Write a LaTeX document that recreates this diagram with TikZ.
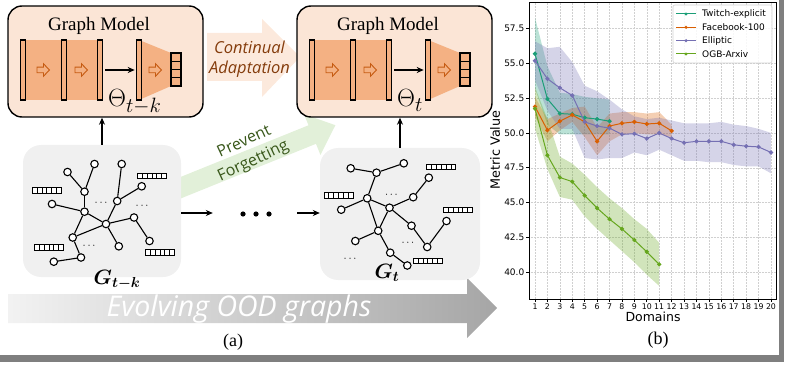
\documentclass[tikz,border=0pt]{standalone}
\usepackage{amsmath,bm}
\usepackage{fontspec}
\setmainfont{Liberation Serif}
\newfontfamily\comicf{Open Sans}
\newfontfamily\plotf{DejaVu Sans}
\usetikzlibrary{arrows.meta}
\definecolor{boxpeach}{HTML}{FBE5D6}
\definecolor{barorange}{HTML}{F4B183}
\definecolor{arroworange}{HTML}{C55A11}
\definecolor{brownt}{HTML}{843C0C}
\definecolor{greenfill}{HTML}{E2F0D9}
\definecolor{greent}{HTML}{38571A}
\definecolor{graybox}{HTML}{F0F0F0}
\definecolor{cTw}{HTML}{1B9E77}
\definecolor{cFb}{HTML}{D95F02}
\definecolor{cEl}{HTML}{7570B3}
\definecolor{cOg}{HTML}{66A61E}
\definecolor{framegray}{HTML}{7F7F7F}
\definecolor{gridgray}{HTML}{D0D0D0}
\tikzset{
  modelbox/.style={draw, line width=1.4pt, fill=boxpeach, rounded corners=14pt, minimum width=195pt, minimum height=111pt, inner sep=0pt},
  layerbar/.style={draw, line width=1.1pt, fill=barorange, minimum width=5.5pt, minimum height=60pt, inner sep=0pt},
  outcell/.style={draw, line width=1.1pt, fill=barorange, minimum width=10pt, minimum height=8.25pt, inner sep=0pt},
  graphbox/.style={fill=graybox, rounded corners=18pt, minimum width=158pt, minimum height=132pt, inner sep=0pt},
  gn/.style={circle, draw, line width=1.1pt, fill=white, minimum size=7.5pt, inner sep=0pt},
  gedge/.style={line width=1.1pt},
  arr/.style={line width=1.2pt, -{Stealth[length=7pt,width=6pt]}},
  gdots/.style={font=\fontsize{11}{11}\selectfont, inner sep=0pt},
  gridline/.style={gridgray, densely dotted, line width=0.5pt},
  ticklab/.style={font=\plotf\fontsize{9}{9}\selectfont, inner sep=0pt},
  xticklab/.style={font=\plotf\fontsize{7.8}{8}\selectfont, inner sep=0pt},
  leglab/.style={font=\plotf\fontsize{9}{9}\selectfont, inner sep=0pt, anchor=west},
  pics/featvec/.style={code={
    \draw[line width=0.9pt, fill=white] (-14.5,-2.7) rectangle (14.5,2.7);
    \foreach \i in {1,...,5} \draw[line width=0.7pt] (-14.5+\i*29/6,-2.7) -- ++(0,5.4);
  }},
  pics/hollowarrow/.style={code={
    \draw[arroworange, line width=0.9pt, line join=miter] (-6,-2.8) -- (0.5,-2.8) -- (0.5,-6.2) -- (6.5,0) -- (0.5,6.2) -- (0.5,2.8) -- (-6,2.8) -- cycle;
  }},
  pics/graphmodel/.style={code={
    \node[modelbox] (-box) at (105.5,61.5) {};
    \node[anchor=base, inner sep=0pt, font=\fontsize{19}{19}\selectfont] (-title) at (99,31) {Graph Model};
    \fill[barorange] (23,40) rectangle (100,100);
    \fill[barorange] (139,40) -- (171,53) -- (171,86) -- (139,100) -- cycle;
    \node[layerbar] (-l1) at (23,70) {};
    \node[layerbar] (-l2) at (64,70) {};
    \node[layerbar] (-l3) at (100,70) {};
    \node[layerbar] (-l4) at (139,70) {};
    \node[outcell] (-o1) at (176,57.1) {};
    \node[outcell] (-o2) at (176,65.4) {};
    \node[outcell] (-o3) at (176,73.6) {};
    \node[outcell] (-o4) at (176,81.9) {};
    \pic at (43,70) {hollowarrow};
    \pic at (81,70) {hollowarrow};
    \pic at (155,70) {hollowarrow};
    \draw[arr, shorten <=2pt, shorten >=1pt] (-l3) -- (-l4);
    \node[anchor=base west, inner sep=0pt, font=\fontsize{24.88}{25}\selectfont] (-theta) at (108,107) {$\Theta_{#1}$};
  }}
}
\begin{document}
\begin{tikzpicture}[x=1pt,y=-1pt]
\useasboundingbox (0,0) rectangle (786,366);
% frame
\fill[framegray] (0,355) rectangle (784,362);
\fill[framegray] (779,0) rectangle (784,362);

% background arrows
\fill[boxpeach!85] (207,33) -- (262,33) -- (262,19) -- (300,57) -- (262,97) -- (262,81) -- (207,81) -- cycle;
\begin{scope}[shift={(175,190)}, rotate=22]
  \fill[greenfill] (0,-10) -- (148,-10) -- (148,-22) -- (173,0) -- (148,22) -- (148,10) -- (0,10) -- cycle;
\end{scope}
\shade[left color=gray!10, right color=gray!70] (8,294) -- (467,294) -- (467,278) -- (497,308) -- (467,338) -- (467,323) -- (8,323) -- cycle;

% graph models
\pic (m1) at (0,0) {graphmodel={t-k}};
\pic (m2) at (289,0) {graphmodel={t}};

% graph boxes
\node[graphbox] (gA) at (102,211) {};
\node[graphbox, minimum width=160pt] (gB) at (400,214) {};

% graph G_{t-k}
\node[gn] (a1) at (67.5,172) {};
\node[gn] (a2) at (94.5,164) {};
\node[gn] (a3) at (84.5,191.7) {};
\node[gn] (a4) at (52,204) {};
\node[gn] (a5) at (84.5,211.7) {};
\node[gn] (a6) at (121.7,164) {};
\node[gn] (a7) at (117.2,201) {};
\node[gn] (a8) at (141.7,186.3) {};
\node[gn] (a9) at (134,217.5) {};
\node[gn] (a10) at (106,224) {};
\node[gn] (a11) at (72.7,237.5) {};
\node[gn] (a12) at (118.8,246.3) {};
\node[gn] (a13) at (149.5,241) {};
\node[gn] (a14) at (81,257.5) {};
\node[gn] (a15) at (53.8,261.7) {};
\foreach \u/\v in {a1/a3,a2/a3,a3/a5,a4/a5,a5/a11,a5/a10,a6/a7,a7/a8,a7/a10,a10/a9,a9/a13,a10/a12,a10/a11,a11/a14,a14/a15}
  \draw[gedge] (\u) -- (\v);
\pic at (46.7,190.5) {featvec};
\pic at (152,176) {featvec};
\pic at (49,247.5) {featvec};
\pic at (160,252.5) {featvec};
\node[gdots] (ad1) at (102,203) {$\cdots$};
\node[gdots] (ad2) at (143,206.5) {$\cdots$};
\node[gdots] (ad3) at (90,246) {$\cdots$};
\node[anchor=base, inner sep=0pt, font=\fontsize{20}{20}\selectfont] (lA) at (117,284) {$\bm{G_{t-k}}$};

% graph G_t
\node[gn] (b1) at (350.7,168.3) {};
\node[gn] (b2) at (376.5,172.7) {};
\node[gn] (b3) at (403.8,163.3) {};
\node[gn] (b4) at (367.2,198.3) {};
\node[gn] (b5) at (341.2,209.7) {};
\node[gn] (b6) at (389.5,207.7) {};
\node[gn] (b7) at (413.2,197.2) {};
\node[gn] (b8) at (428.8,177.7) {};
\node[gn] (b9) at (411.5,225.7) {};
\node[gn] (b10) at (378.2,230.8) {};
\node[gn] (b11) at (355.3,241) {};
\node[gn] (b12) at (390.2,252.7) {};
\node[gn] (b13) at (407.3,265.5) {};
\node[gn] (b14) at (427.2,247) {};
\node[gn] (b15) at (446.5,221) {};
\foreach \u/\v in {b1/b2,b2/b3,b2/b4,b5/b4,b4/b6,b6/b7,b7/b8,b4/b10,b6/b10,b6/b9,b9/b14,b14/b15,b10/b11,b10/b12,b12/b13}
  \draw[gedge] (\u) -- (\v);
\pic at (338.5,195.5) {featvec};
\pic at (441.3,167.2) {featvec};
\pic at (458,210) {featvec};
\pic at (427.7,261) {featvec};
\node[gdots] (bd1) at (392.3,195.5) {$\cdots$};
\node[gdots] (bd2) at (408.8,243) {$\cdots$};
\node[gdots] (bd3) at (351,259) {$\cdots$};
\node[anchor=base, inner sep=0pt, font=\fontsize{20}{20}\selectfont] (lB) at (387,278) {$\bm{G_{t}}$};

% connectors
\draw[arr] (gA.north) -- (gA.north |- m1-box.south);
\draw[arr] (gB.north) -- (gB.north |- m2-box.south);
\node[inner sep=0pt, minimum width=84pt, minimum height=8pt] (ell) at (255,213) {};
\fill (243,214) circle (2.6) (256,214) circle (2.6) (269,214) circle (2.6);
\draw[arr] (gA.east |- ell) -- (ell.west);
\draw[arr] (ell.east) -- (gB.west |- ell);

% texts
\node[align=center, inner sep=0pt, text=brownt, font=\comicf\itshape\fontsize{16.5}{20}\selectfont] (cont) at (249.5,59) {Continual\\Adaptation};
\node[align=center, inner sep=0pt, text=greent, rotate=25, font=\comicf\fontsize{16}{21.5}\selectfont] (prev) at (249,152) {Prevent\\Forgetting};
\node[inner sep=0pt, text=white, font=\comicf\itshape\fontsize{28.5}{28.5}\selectfont] (evo) at (239,309) {Evolving OOD graphs};
\node[inner sep=0pt, font=\fontsize{18}{18}\selectfont] (capa) at (233,342) {(a)};
\node[inner sep=0pt, font=\fontsize{18}{18}\selectfont] (capb) at (658,340) {(b)};

% plot
\begin{scope}[x=12.42pt, y=13.9pt, shift={(522.58pt,-828pt)}]
  \foreach \d in {1,...,20} \draw[gridline] (\d,38.06) -- (\d,59.42);
  \foreach \v in {40,42.5,45,47.5,50,52.5,55,57.5} \draw[gridline] (0.517,\v) -- (20.40,\v);
  % bands
  \fill[cTw, opacity=0.3] (1,58.3) -- (2,54.8) -- (3,52.9) -- (4,52.8) -- (5,52.6) -- (6,52.5) -- (7,52.4) -- (7,49.9) -- (6,49.9) -- (5,49.9) -- (4,49.9) -- (3,49.9) -- (2,50.6) -- (1,53.2) -- cycle;
  \fill[cFb, opacity=0.3] (1,52.6) -- (2,51.0) -- (3,51.4) -- (4,51.8) -- (5,51.9) -- (6,50.4) -- (7,51.4) -- (8,51.5) -- (9,51.5) -- (10,51.4) -- (11,51.5) -- (12,50.6) -- (12,49.7) -- (11,49.9) -- (10,49.9) -- (9,50.0) -- (8,49.9) -- (7,49.4) -- (6,48.4) -- (5,49.7) -- (4,50.8) -- (3,50.2) -- (2,49.4) -- (1,51.2) -- cycle;
  \fill[cEl, opacity=0.3] (1,56.6) -- (2,56.1) -- (3,56.2) -- (4,55.1) -- (5,53.4) -- (6,53.0) -- (7,52.4) -- (8,51.7) -- (9,51.2) -- (10,51.0) -- (11,51.1) -- (12,50.9) -- (13,50.7) -- (14,50.7) -- (15,50.7) -- (16,50.8) -- (17,50.6) -- (18,50.5) -- (19,50.3) -- (20,50.0) -- (20,47.1) -- (19,47.6) -- (18,47.6) -- (17,47.7) -- (16,47.9) -- (15,47.9) -- (14,48.0) -- (13,48.0) -- (12,48.4) -- (11,48.8) -- (10,48.4) -- (9,48.6) -- (8,48.2) -- (7,48.2) -- (6,48.1) -- (5,48.2) -- (4,50.3) -- (3,50.3) -- (2,51.6) -- (1,53.8) -- cycle;
  \fill[cOg, opacity=0.3] (1,53.3) -- (2,51.0) -- (3,48.3) -- (4,47.8) -- (5,47.0) -- (6,46.1) -- (7,45.3) -- (8,44.6) -- (9,43.8) -- (10,43.1) -- (11,42.1) -- (11,39.0) -- (10,39.8) -- (9,40.7) -- (8,41.5) -- (7,42.3) -- (6,43.1) -- (5,44.0) -- (4,45.2) -- (3,45.4) -- (2,47.4) -- (1,50.3) -- cycle;
  % lines
  \draw[cTw, line width=1pt] plot[mark=*, mark size=1.6pt, mark options={fill=cTw, draw=cTw}] coordinates {(1,55.7) (2,52.45) (3,51.4) (4,51.35) (5,51.1) (6,51.0) (7,50.85)};
  \draw[cFb, line width=1pt] plot[mark=*, mark size=1.6pt, mark options={fill=cFb, draw=cFb}] coordinates {(1,51.9) (2,50.2) (3,50.85) (4,51.3) (5,50.8) (6,49.4) (7,50.5) (8,50.7) (9,50.8) (10,50.65) (11,50.7) (12,50.15)};
  \draw[cEl, line width=1pt] plot[mark=*, mark size=1.6pt, mark options={fill=cEl, draw=cEl}] coordinates {(1,55.2) (2,53.9) (3,53.25) (4,52.7) (5,50.8) (6,50.5) (7,50.35) (8,49.9) (9,49.95) (10,49.6) (11,50.0) (12,49.6) (13,49.3) (14,49.4) (15,49.4) (16,49.4) (17,49.15) (18,49.05) (19,49.0) (20,48.6)};
  \draw[cOg, line width=1pt] plot[mark=*, mark size=1.6pt, mark options={fill=cOg, draw=cOg}] coordinates {(1,51.75) (2,48.4) (3,46.8) (4,46.5) (5,45.5) (6,44.6) (7,43.8) (8,43.1) (9,42.3) (10,41.45) (11,40.55)};
  % axes
  \draw[line width=0.8pt] (0.517,38.06) rectangle (20.40,59.42);
  \foreach \v/\l in {40/40.0,42.5/42.5,45/45.0,47.5/47.5,50/50.0,52.5/52.5,55/55.0,57.5/57.5} {
    \draw[line width=0.6pt] (0.517,\v) -- ++(-3pt,0);
    \node[ticklab, anchor=east] at ([xshift=-4.5pt]0.517,\v) {\l};
  }
  \foreach \d in {1,...,20} {
    \draw[line width=0.6pt] (\d,38.06) -- ++(0,-3pt);
    \node[xticklab, anchor=north] at ([yshift=-4.5pt]\d,38.06) {\d};
  }
\end{scope}
\node[rotate=90, inner sep=0pt, font=\plotf\fontsize{12.8}{13}\selectfont] (ylab) at (495,150) {Metric Value};
\node[inner sep=0pt, font=\plotf\fontsize{12.5}{13}\selectfont] (xlab) at (653,317) {Domains};
% legend
\node[draw=gray!35, fill=white, fill opacity=0.85, rounded corners=2pt, minimum width=99pt, minimum height=58pt, inner sep=0pt, line width=0.6pt] (legend) at (722.5,34) {};
\foreach \c/\yy/\t in {cTw/14/Twitch-explicit, cFb/27.3/Facebook-100, cEl/40.7/Elliptic, cOg/54/OGB-Arxiv} {
  \draw[\c, line width=1pt] (676,\yy) -- (696,\yy);
  \fill[\c] (686,\yy) circle (1.7);
  \node[leglab] at (702,\yy) {\t};
}
\end{tikzpicture}
\end{document}
